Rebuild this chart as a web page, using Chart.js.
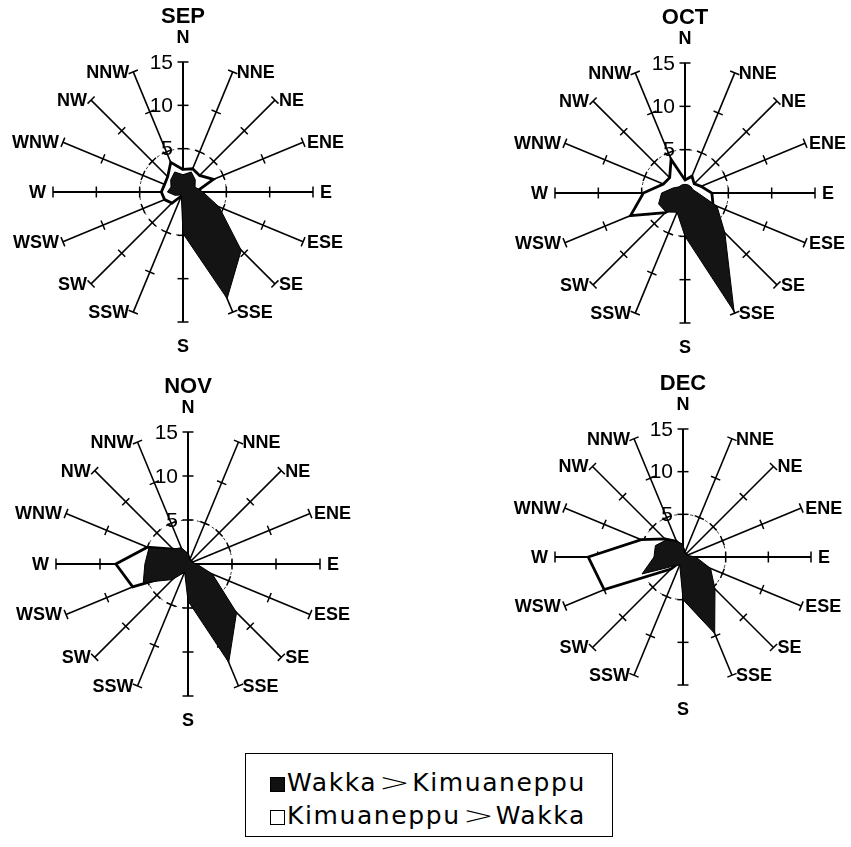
<!DOCTYPE html>
<html>
<head>
<meta charset="utf-8">
<script src="https://cdn.jsdelivr.net/npm/chart.js@4"></script>
<style>
  body { margin: 0; background: #fff; width: 851px; height: 847px; position: relative; overflow: hidden; }
  canvas.rose { position: absolute; }
  #legend { position: absolute; left: 245px; top: 753px; width: 368px; height: 84px; border: 1.5px solid #000; box-sizing: border-box;
            font-family: "DejaVu Sans", sans-serif; font-size: 25px; color: #000; }
  #legend .row { position: absolute; left: 24px; height: 30px; line-height: 30px; white-space: nowrap; letter-spacing: 1.6px; }
  #legend .sw { display: inline-block; width: 15px; height: 15px; box-sizing: border-box; border: 1.5px solid #000; vertical-align: -1px; margin-right: 2px; }
  #legend .gt { display: inline-block; transform: scaleX(1.5); margin: 0 7px; letter-spacing: 0; font-weight: 300; }
</style>
</head>
<body>
<canvas id="sep" class="rose"></canvas>
<canvas id="oct" class="rose"></canvas>
<canvas id="nov" class="rose"></canvas>
<canvas id="dec" class="rose"></canvas>
<div id="legend">
  <div class="row" style="top:14px"><span class="sw" style="background:#111"></span>Wakka<span class="gt">&gt;</span>Kimuaneppu</div>
  <div class="row" style="top:47px"><span class="sw" style="background:#fff"></span>Kimuaneppu<span class="gt">&gt;</span>Wakka</div>
</div>
<script>
// wind directions, clockwise from north
const directions = ['N', 'NNE', 'NE', 'ENE', 'E', 'ESE', 'SE', 'SSE', 'S', 'SSW', 'SW', 'WSW', 'W', 'WNW', 'NW', 'NNW'];
const tickValues = [5, 10, 15];
const seriesNames = ['Wakka>Kimuaneppu', 'Kimuaneppu>Wakka'];

// frequencies (same direction order as above)
const sepWakka = [2, 2.5, 2, 1.5, 2.3, 4.5, 9.5, 13.3, 4.8, 0.5, 0.5, 1, 1.8, 1.5, 2, 2.5];
const sepKimu  = [2.6, 2.9, 2.7, 3.8, 1.5, 0.5, 0.3, 0.3, 0.3, 0.5, 1.8, 2.3, 2.5, 2.3, 2.5, 3.7];
const octWakka = [1, 1, 1, 1, 1.5, 4, 6.5, 14.8, 5, 2.4, 3.1, 3.3, 2.7, 1.5, 1, 1];
const octKimu  = [1.5, 2.1, 1.5, 2, 3.1, 3.5, 2, 1, 1, 1, 3.2, 6.8, 4.8, 2.7, 2.5, 4.2];
const novWakka = [1.2, 0.5, 0.5, 0.5, 1, 3, 7.8, 12.1, 4.2, 1, 2.5, 5.5, 4.9, 4.8, 2.4, 2];
const novKimu  = [1, 0.5, 0.5, 0.5, 0.5, 0.5, 0.5, 0.5, 0.5, 1, 1.5, 6.8, 8.2, 5, 2.4, 1.5];
const decWakka = [1.5, 0.5, 0.5, 0.5, 1.5, 3.5, 5.3, 9.7, 5, 1, 1.5, 5.2, 3.4, 3.5, 2.8, 2];
const decKimu  = [1, 0.5, 0.5, 0.5, 0.5, 0.5, 0.5, 0.5, 0.5, 0.5, 2, 10, 11.1, 5.3, 3, 2];

const labelFont = 'bold 18px "Liberation Sans", Arial, sans-serif';
const titleFont = 'bold 22px "Liberation Sans Narrow", "Liberation Sans", Arial, sans-serif';
const tickFont = '21px "Liberation Sans", Arial, sans-serif';

// spoke ticks, tick labels, direction labels and month title
const roseDecor = {
  id: 'roseDecor',
  beforeDatasetsDraw(chart) {
    const r = chart.scales.r;
    const ctx = chart.ctx;
    ctx.save();
    ctx.strokeStyle = '#000';
    ctx.lineWidth = 1.5;
    directions.forEach((d, i) => {
      tickValues.forEach(v => {
        const p = r.getPointPositionForValue(i, v);
        const half = i % 4 === 0 ? 5.5 : 5;
        const nx = -Math.sin(p.angle), ny = Math.cos(p.angle);
        ctx.beginPath();
        ctx.moveTo(p.x - nx * half, p.y - ny * half);
        ctx.lineTo(p.x + nx * half, p.y + ny * half);
        ctx.stroke();
      });
    });
    ctx.restore();
  },
  afterDraw(chart, args, opts) {
    const r = chart.scales.r;
    const ctx = chart.ctx;
    ctx.save();
    ctx.fillStyle = '#000';
    ctx.textBaseline = 'middle';

    ctx.font = tickFont;
    ctx.textAlign = 'right';
    tickValues.forEach(v => {
      const p = r.getPointPositionForValue(0, v);
      ctx.fillText(String(v), p.x - 10, p.y + 1);
    });

    ctx.font = labelFont;
    directions.forEach((d, i) => {
      const p = r.getPointPositionForValue(i, r.max);
      const dx = Math.cos(p.angle), dy = Math.sin(p.angle);
      if (Math.abs(dx) < 0.01) {
        ctx.textAlign = 'center';
        ctx.fillText(d, p.x, p.y + (dy < 0 ? -24 : 25));
      } else {
        const gap = Math.abs(dy) < 0.01 ? 7 : 4;
        ctx.textAlign = dx > 0 ? 'left' : 'right';
        ctx.fillText(d, p.x + (dx > 0 ? gap : -gap), p.y + 1);
      }
    });

    ctx.font = titleFont;
    ctx.textAlign = 'center';
    ctx.fillText(opts.title, r.xCenter, r.yCenter - r.drawingArea - 45);
    ctx.restore();
  }
};

function makeRose(id, box, center, radius, title, wakka, kimu) {
  const canvas = document.getElementById(id);
  canvas.width = box[2];
  canvas.height = box[3];
  canvas.style.left = box[0] + 'px';
  canvas.style.top = box[1] + 'px';
  const padLeft = center[0] - radius - box[0];
  const padTop = center[1] - radius - box[1];

  return new Chart(canvas, {
    type: 'radar',
    data: {
      labels: directions,
      datasets: [
        {
          label: seriesNames[0],
          data: wakka,
          backgroundColor: '#141414',
          borderColor: '#000',
          borderWidth: 1,
          pointRadius: 0
        },
        {
          label: seriesNames[1],
          data: kimu,
          backgroundColor: '#fff',
          borderColor: '#000',
          borderWidth: 2.8,
          pointRadius: 0
        }
      ]
    },
    options: {
      responsive: false,
      animation: false,
      layout: {
        padding: {
          left: padLeft,
          top: padTop,
          right: box[2] - padLeft - 2 * radius,
          bottom: box[3] - padTop - 2 * radius
        }
      },
      elements: { line: { tension: 0 } },
      scales: {
        r: {
          min: 0,
          max: 15,
          ticks: { display: false, stepSize: 5 },
          pointLabels: { display: false },
          angleLines: {
            color: '#000',
            lineWidth: ctx => ctx.index % 4 === 0 ? 2 : 1.6
          },
          grid: {
            circular: true,
            lineWidth: 1,
            color: ctx => ctx.tick && ctx.tick.value === 5 ? '#333' : 'rgba(0,0,0,0)'
          },
          border: { dash: [3, 5] }
        }
      },
      plugins: {
        legend: { display: false },
        tooltip: { enabled: false },
        roseDecor: { title: title }
      }
    },
    plugins: [roseDecor]
  });
}

makeRose('sep', [0, 0, 425, 370], [183, 192], 130, 'SEP', sepWakka, sepKimu);
makeRose('oct', [425, 0, 426, 370], [685, 193], 130, 'OCT', octWakka, octKimu);
makeRose('nov', [0, 370, 425, 380], [188, 564], 132, 'NOV', novWakka, novKimu);
makeRose('dec', [425, 370, 426, 380], [683, 557], 128, 'DEC', decWakka, decKimu);
</script>
</body>
</html>
